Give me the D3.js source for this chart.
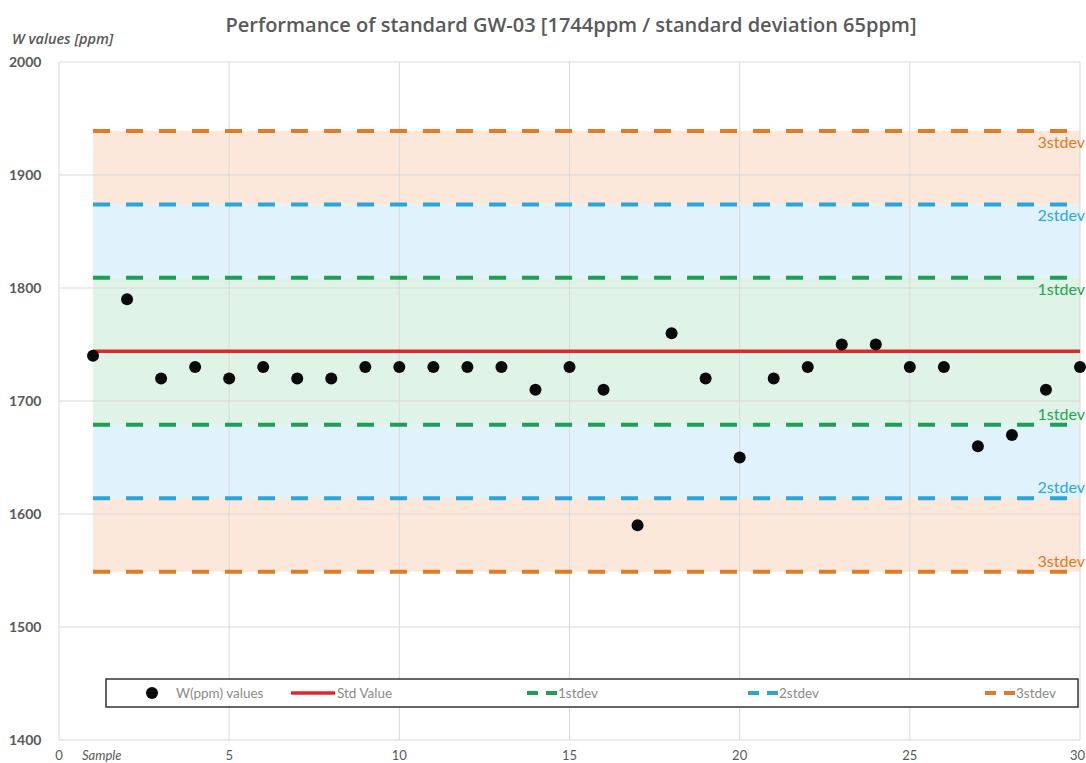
<!DOCTYPE html>
<html>
<head>
<meta charset="utf-8">
<script src="https://cdn.jsdelivr.net/npm/d3@7"></script>
<style>
  html, body { margin: 0; padding: 0; background: #fff; }
  svg { display: block; }
</style>
</head>
<body>
<div id="chart"></div>
<script>
// Sample numbers and measured W concentrations (ppm)
const samples = [1,2,3,4,5,6,7,8,9,10,11,12,13,14,15,16,17,18,19,20,21,22,23,24,25,26,27,28,29,30];
const wValues = [1740,1790,1720,1730,1720,1730,1720,1720,1730,1730,1730,1730,1730,1710,1730,1710,1590,1760,1720,1650,1720,1730,1750,1750,1730,1730,1660,1670,1710,1730];

// Certified value and standard deviation of GW-03
const stdValue = 1744;
const stdDev = 65;
const devLevels = [1, 2, 3];
const devLabels = ["1stdev", "2stdev", "3stdev"];

// Axis ticks
const xTicks = [0, 5, 10, 15, 20, 25, 30];
const yTicks = [1400, 1500, 1600, 1700, 1800, 1900, 2000];

const W = 1086, H = 763;
const margin = { left: 59, right: 6, top: 62, bottom: 23 };

const svg = d3.select("#chart").append("svg")
  .attr("width", W).attr("height", H)
  .style("font-family", "Lato, 'Open Sans', sans-serif");

const x = d3.scaleLinear().domain([0, 30]).range([margin.left, W - margin.right]);
const y = d3.scaleLinear().domain([1400, 2000]).range([H - margin.bottom, margin.top]);

const lineColor = { 1: "#1f9f55", 2: "#29a6d9", 3: "#e07b27" };
const textColor = { 1: "#23a456", 2: "#2aa8df", 3: "#e07b27" };
const bandColor = { 1: "#dff3e6", 2: "#e0f2fc", 3: "#fce8da" };

// Shaded bands between consecutive deviation levels
const x0 = samples[0], x1 = samples[samples.length - 1];
const bands = [
  { lo: stdValue - stdDev, hi: stdValue + stdDev, level: 1 },
  { lo: stdValue + stdDev, hi: stdValue + 2 * stdDev, level: 2 },
  { lo: stdValue - 2 * stdDev, hi: stdValue - stdDev, level: 2 },
  { lo: stdValue + 2 * stdDev, hi: stdValue + 3 * stdDev, level: 3 },
  { lo: stdValue - 3 * stdDev, hi: stdValue - 2 * stdDev, level: 3 }
];
svg.append("g").selectAll("rect").data(bands).join("rect")
  .attr("x", x(x0))
  .attr("width", x(x1) - x(x0))
  .attr("y", d => y(d.hi))
  .attr("height", d => y(d.lo) - y(d.hi))
  .attr("fill", d => bandColor[d.level]);

// Gridlines
const grid = svg.append("g");
grid.selectAll("line.h").data(yTicks).join("line").attr("class", "h")
  .attr("x1", x(0)).attr("x2", x(30))
  .attr("y1", d => y(d)).attr("y2", d => y(d))
  .attr("stroke", "#d9d9d9").attr("stroke-width", 1);
grid.selectAll("line.v").data(xTicks).join("line").attr("class", "v")
  .attr("x1", d => x(d)).attr("x2", d => x(d))
  .attr("y1", y(1400)).attr("y2", y(2000))
  .attr("stroke", "#d9d9d9").attr("stroke-width", 1);

// Dashed deviation lines
const devLines = [];
devLevels.forEach(k => {
  devLines.push({ v: stdValue + k * stdDev, level: k, side: "up" });
  devLines.push({ v: stdValue - k * stdDev, level: k, side: "down" });
});
svg.append("g").selectAll("line").data(devLines).join("line")
  .attr("x1", x(x0)).attr("x2", x(x1))
  .attr("y1", d => y(d.v)).attr("y2", d => y(d.v))
  .attr("stroke", d => lineColor[d.level])
  .attr("stroke-width", 4)
  .attr("stroke-dasharray", "17 16");

// Standard value line
svg.append("line")
  .attr("x1", x(x0)).attr("x2", x(x1))
  .attr("y1", y(stdValue)).attr("y2", y(stdValue))
  .attr("stroke", "#e3262b").attr("stroke-width", 3.5);

// Deviation labels at the right end
svg.append("g").selectAll("text").data(devLines).join("text")
  .attr("x", W - 1)
  .attr("y", d => d.side === "up" ? y(d.v) + 17 : y(d.v) - 5)
  .attr("text-anchor", "end")
  .attr("font-size", 16)
  .attr("fill", d => textColor[d.level])
  .text(d => devLabels[d.level - 1]);

// Measured values
svg.append("g").selectAll("circle").data(samples).join("circle")
  .attr("cx", (d) => x(d))
  .attr("cy", (d, i) => y(wValues[i]))
  .attr("r", 6)
  .attr("fill", "#0a0a0a");

// Axis tick labels
svg.append("g").selectAll("text").data(yTicks).join("text")
  .attr("x", 9).attr("y", d => y(d) + 5)
  .attr("font-size", 14).attr("font-weight", "bold").attr("fill", "#595959")
  .text(d => d);
// the last x label is right-aligned so it stays inside the frame
svg.append("g").selectAll("text").data(xTicks).join("text")
  .attr("x", (d, i) => i === xTicks.length - 1 ? W - 1 : x(d)).attr("y", H - 3)
  .attr("text-anchor", (d, i) => i === xTicks.length - 1 ? "end" : "middle")
  .attr("font-size", 13).attr("fill", "#595959")
  .text(d => d);

// Axis titles
svg.append("text").attr("x", 82).attr("y", H - 3)
  .attr("font-size", 13).attr("font-style", "italic").attr("fill", "#595959")
  .text("Sample");
svg.append("text").attr("x", 12).attr("y", 44)
  .style("font-family", "'Open Sans', sans-serif")
  .attr("font-size", 14.5).attr("font-style", "italic").attr("font-weight", 600).attr("fill", "#595959")
  .text("W values [ppm]");

// Chart title
svg.append("text").attr("x", 571).attr("y", 32)
  .attr("text-anchor", "middle")
  .style("font-family", "'Open Sans', sans-serif")
  .attr("font-size", 20).attr("font-weight", 600).attr("fill", "#595959")
  .text("Performance of standard GW-03 [1744ppm / standard deviation 65ppm]");

// Legend
const legend = svg.append("g");
legend.append("rect")
  .attr("x", 106).attr("y", 679).attr("width", 972).attr("height", 28)
  .attr("fill", "#fff").attr("stroke", "#333").attr("stroke-width", 1.5);
const ly = 693;
const legendFont = 13.5;
legend.append("circle").attr("cx", 152).attr("cy", ly).attr("r", 6).attr("fill", "#0a0a0a");
legend.append("text").attr("x", 176).attr("y", ly + 5).attr("font-size", legendFont).attr("fill", "#8a8a8a").text("W(ppm) values");
legend.append("line").attr("x1", 291).attr("x2", 335).attr("y1", ly).attr("y2", ly)
  .attr("stroke", "#e3262b").attr("stroke-width", 3.5);
legend.append("text").attr("x", 337).attr("y", ly + 5).attr("font-size", legendFont).attr("fill", "#8a8a8a").text("Std Value");

const legendDev = [
  { level: 1, x: 527 },
  { level: 2, x: 748 },
  { level: 3, x: 985 }
];
legendDev.forEach(d => {
  legend.append("line").attr("x1", d.x).attr("x2", d.x + 30).attr("y1", ly).attr("y2", ly)
    .attr("stroke", lineColor[d.level]).attr("stroke-width", 4).attr("stroke-dasharray", "11 8");
  legend.append("text").attr("x", d.x + 31).attr("y", ly + 5).attr("font-size", legendFont).attr("fill", "#8a8a8a")
    .text(devLabels[d.level - 1]);
});
</script>
</body>
</html>
